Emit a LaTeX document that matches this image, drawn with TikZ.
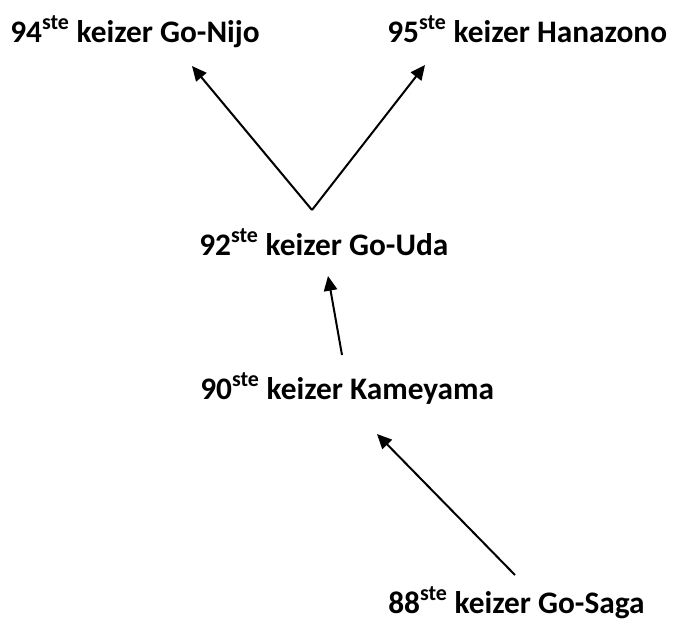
\documentclass[tikz,border=0pt]{standalone}
\usepackage{fontspec}
\setmainfont{Carlito}
\usetikzlibrary{arrows.meta}

\tikzset{
  keizer/.style={anchor=base west, inner sep=0pt, font=\bfseries\fontsize{23.5}{28}\selectfont},
  pijl/.style={-{Triangle[length=11pt, width=10pt]}, line width=1.5pt}
}

\begin{document}
\begin{tikzpicture}[x=0.75pt, y=-0.75pt]
\useasboundingbox (0,0) rectangle (677,619);
%emperors
\node[keizer] (n94) at (10,42) {94\textsuperscript{ste} keizer Go-Nijo};
\node[keizer] (n95) at (387,42) {95\textsuperscript{ste} keizer Hanazono};
\node[keizer] (n92) at (199,255) {92\textsuperscript{ste} keizer Go-Uda};
\node[keizer] (n90) at (200,399) {90\textsuperscript{ste} keizer Kameyama};
\node[keizer] (n88) at (388,613) {88\textsuperscript{ste} keizer Go-Saga};
%arrows
\draw[pijl] ([shift={(113,-45)}]n92.base west) -- ([shift={(182,24)}]n94.base west);
\draw[pijl] ([shift={(113,-45)}]n92.base west) -- ([shift={(38,23)}]n95.base west);
\draw[pijl] ([shift={(142,-44)}]n90.base west) -- ([shift={(129,21)}]n92.base west);
\draw[pijl] ([shift={(127,-38)}]n88.base west) -- ([shift={(177,35)}]n90.base west);
\end{tikzpicture}
\end{document}
